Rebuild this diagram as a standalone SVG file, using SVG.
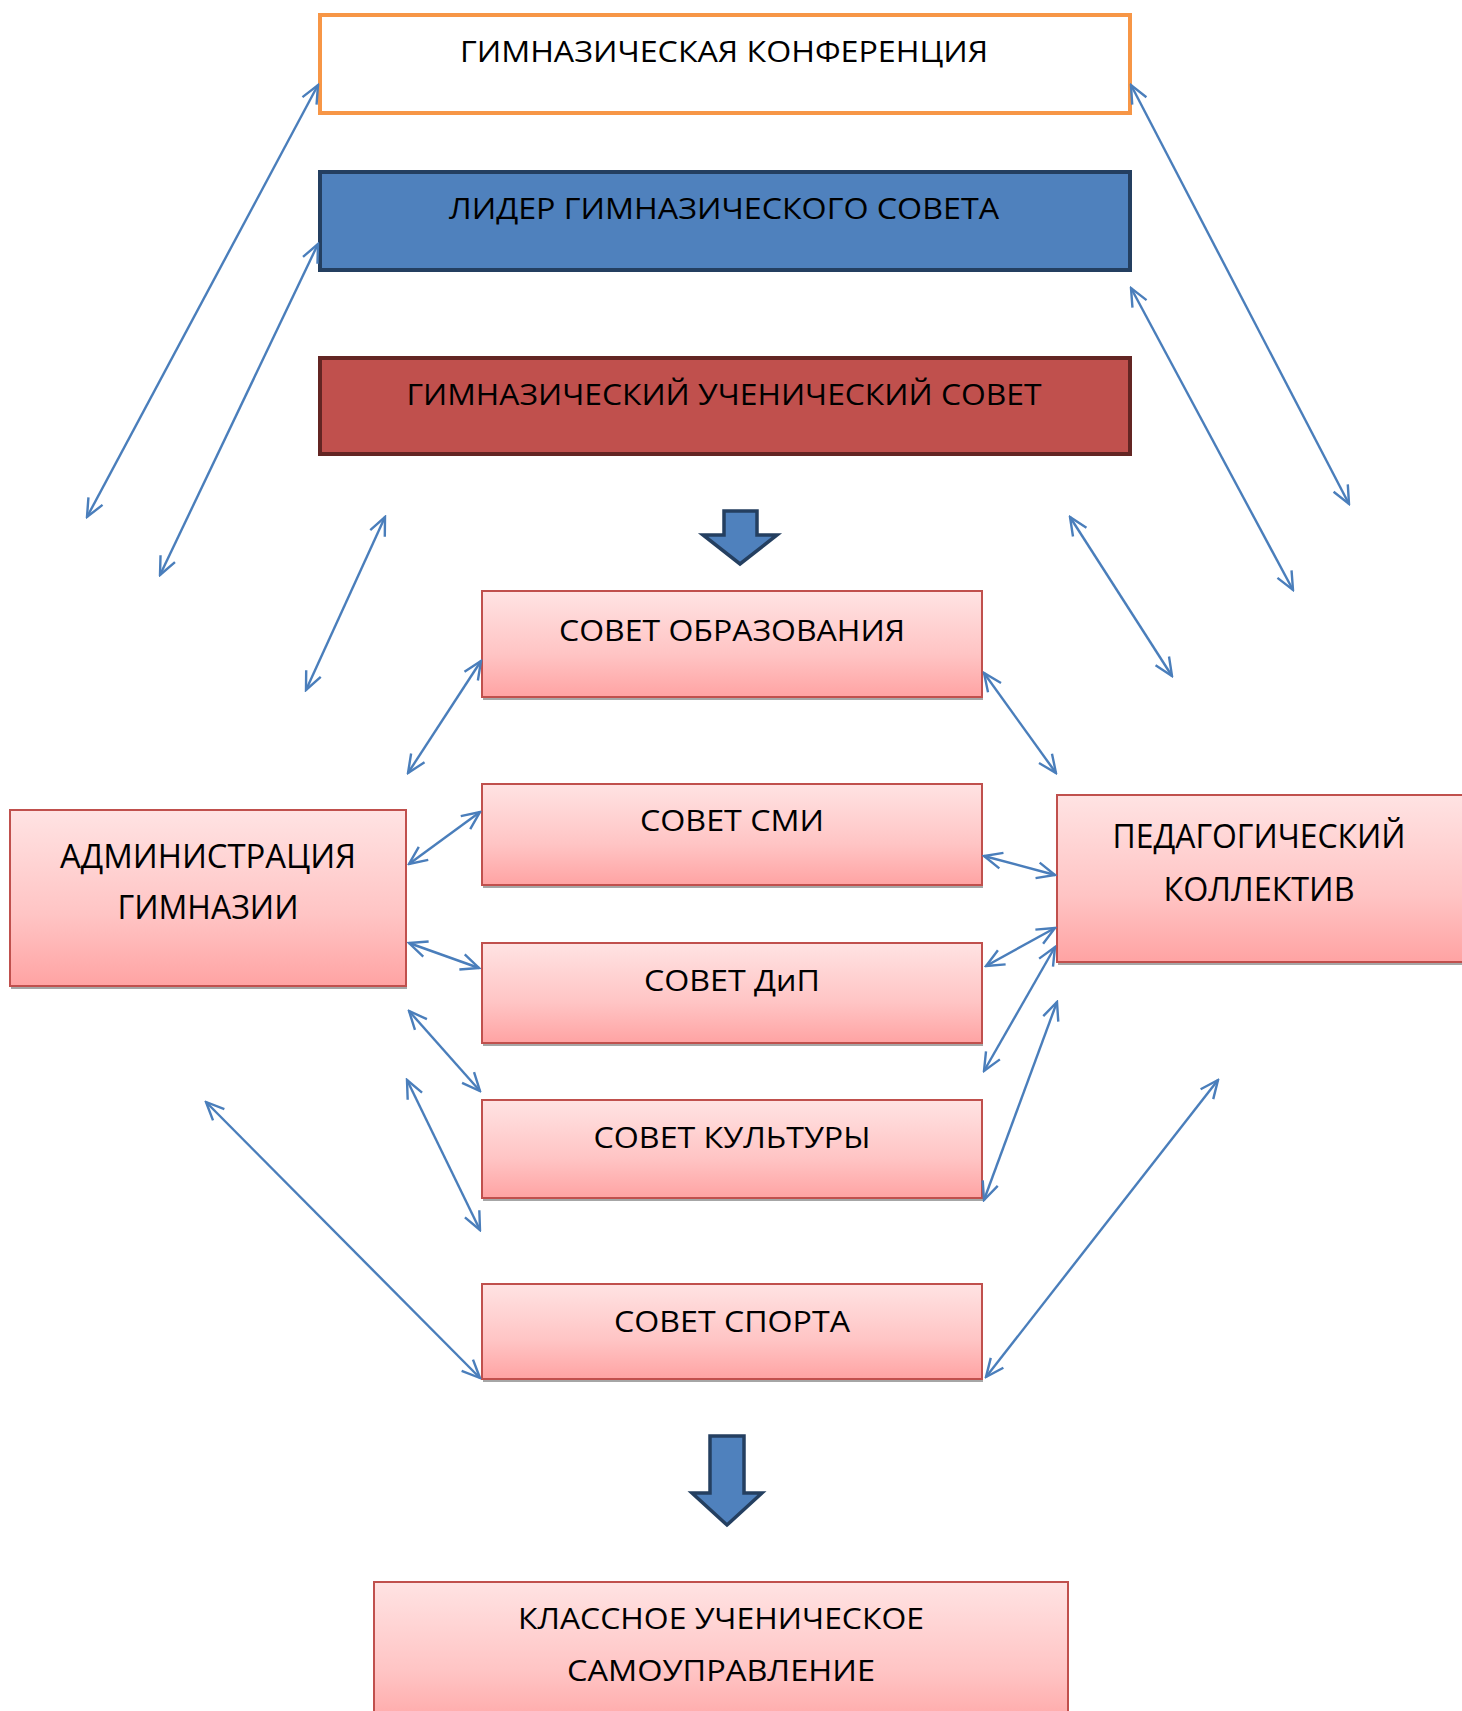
<svg xmlns="http://www.w3.org/2000/svg" width="1462" height="1711" viewBox="0 0 1462 1711">
<style>
text{font-family:"Open Sans","Noto Sans","Liberation Sans",sans-serif;font-size:30px;fill:#000;text-anchor:middle}
.big{font-size:32px}
.pink{fill:url(#pg);stroke:#C0504D;stroke-width:2}
.shadow{fill:#A6A6A6}
.conn line{stroke:#4A7EBB;stroke-width:2.4;fill:none;marker-start:url(#ah);marker-end:url(#ah)}
.block{fill:#4F81BD;stroke:#243F60;stroke-width:3.5;stroke-linejoin:miter}
</style>
<defs>
<linearGradient id="pg" x1="0" y1="0" x2="0" y2="1">
<stop offset="0" stop-color="#FFE3E3"/>
<stop offset="0.6" stop-color="#FFC4C4"/>
<stop offset="1" stop-color="#FFA3A3"/>
</linearGradient>
<marker id="ah" viewBox="-20 -10 22 20" refX="0" refY="0" markerWidth="22" markerHeight="20" markerUnits="userSpaceOnUse" orient="auto-start-reverse">
<path d="M-18,-8 L0,0 L-18,8" fill="none" stroke="#4A7EBB" stroke-width="2.4"/>
</marker>
</defs>

<g id="conference">
<rect x="320" y="15" width="810" height="98" fill="#FFFFFF" stroke="#F79646" stroke-width="4"/>
<text x="724" y="62" textLength="528" lengthAdjust="spacingAndGlyphs">ГИМНАЗИЧЕСКАЯ КОНФЕРЕНЦИЯ</text>
</g>
<g id="leader">
<rect x="320" y="172" width="810" height="98" fill="#4F81BD" stroke="#243F60" stroke-width="4"/>
<text x="724" y="219" textLength="550" lengthAdjust="spacingAndGlyphs">ЛИДЕР ГИМНАЗИЧЕСКОГО СОВЕТА</text>
</g>
<g id="student-council">
<rect x="320" y="358" width="810" height="96" fill="#C0504D" stroke="#632523" stroke-width="4"/>
<text x="724" y="405" textLength="635" lengthAdjust="spacingAndGlyphs">ГИМНАЗИЧЕСКИЙ УЧЕНИЧЕСКИЙ СОВЕТ</text>
</g>

<g id="block-arrow-1">
<polygon class="block" points="724,511 757,511 757,535 777,535 740,564 703,535 724,535"/>
</g>

<g id="sovet-obrazovaniya">
<rect class="shadow" x="483" y="594" width="500" height="106"/>
<rect class="pink" x="482" y="591" width="500" height="106"/>
<text x="732" y="641" textLength="346" lengthAdjust="spacingAndGlyphs">СОВЕТ ОБРАЗОВАНИЯ</text>
</g>
<g id="sovet-smi">
<rect class="shadow" x="483" y="787" width="500" height="101"/>
<rect class="pink" x="482" y="784" width="500" height="101"/>
<text x="732" y="831" textLength="184" lengthAdjust="spacingAndGlyphs">СОВЕТ СМИ</text>
</g>
<g id="sovet-dip">
<rect class="shadow" x="483" y="946" width="500" height="100"/>
<rect class="pink" x="482" y="943" width="500" height="100"/>
<text x="732" y="991" textLength="176" lengthAdjust="spacingAndGlyphs">СОВЕТ ДиП</text>
</g>
<g id="sovet-kultury">
<rect class="shadow" x="483" y="1103" width="500" height="98"/>
<rect class="pink" x="482" y="1100" width="500" height="98"/>
<text x="732" y="1148" textLength="277" lengthAdjust="spacingAndGlyphs">СОВЕТ КУЛЬТУРЫ</text>
</g>
<g id="sovet-sporta">
<rect class="shadow" x="483" y="1287" width="500" height="95"/>
<rect class="pink" x="482" y="1284" width="500" height="95"/>
<text x="732" y="1332" textLength="236" lengthAdjust="spacingAndGlyphs">СОВЕТ СПОРТА</text>
</g>

<g id="administration">
<rect class="shadow" x="11" y="813" width="396" height="176"/>
<rect class="pink" x="10" y="810" width="396" height="176"/>
<text class="big" x="208" y="868" textLength="296" lengthAdjust="spacingAndGlyphs">АДМИНИСТРАЦИЯ</text>
<text class="big" x="208" y="919" textLength="181" lengthAdjust="spacingAndGlyphs">ГИМНАЗИИ</text>
</g>
<g id="pedagogical-staff">
<rect class="shadow" x="1058" y="798" width="420" height="167"/>
<rect class="pink" x="1057" y="795" width="420" height="167"/>
<text class="big" x="1259" y="848" textLength="293" lengthAdjust="spacingAndGlyphs">ПЕДАГОГИЧЕСКИЙ</text>
<text class="big" x="1259" y="901" textLength="191" lengthAdjust="spacingAndGlyphs">КОЛЛЕКТИВ</text>
</g>

<g id="block-arrow-2">
<polygon class="block" points="710,1436 744,1436 744,1493 762,1493 727,1525 692,1493 710,1493"/>
</g>

<g id="class-self-government">
<rect class="pink" x="374" y="1582" width="694" height="150"/>
<text x="721" y="1629" textLength="406" lengthAdjust="spacingAndGlyphs">КЛАССНОЕ УЧЕНИЧЕСКОЕ</text>
<text x="721" y="1681" textLength="308" lengthAdjust="spacingAndGlyphs">САМОУПРАВЛЕНИЕ</text>
</g>

<g id="connectors" class="conn">
<line x1="318" y1="85" x2="87" y2="517"/>
<line x1="318" y1="244" x2="160" y2="575"/>
<line x1="385" y1="517" x2="306" y2="690"/>
<line x1="1131" y1="85" x2="1349" y2="504"/>
<line x1="1131" y1="288" x2="1293" y2="590"/>
<line x1="1070" y1="517" x2="1172" y2="676"/>
<line x1="481" y1="661" x2="408" y2="773"/>
<line x1="984" y1="673" x2="1056" y2="773"/>
<line x1="480" y1="812" x2="409" y2="864"/>
<line x1="984" y1="856" x2="1055" y2="875"/>
<line x1="409" y1="943" x2="479" y2="968"/>
<line x1="1055" y1="928" x2="986" y2="966"/>
<line x1="1055" y1="947" x2="984" y2="1071"/>
<line x1="409" y1="1011" x2="480" y2="1091"/>
<line x1="407" y1="1080" x2="480" y2="1230"/>
<line x1="1057" y1="1002" x2="984" y2="1200"/>
<line x1="206" y1="1102" x2="480" y2="1378"/>
<line x1="1218" y1="1080" x2="986" y2="1377"/>
</g>
</svg>
